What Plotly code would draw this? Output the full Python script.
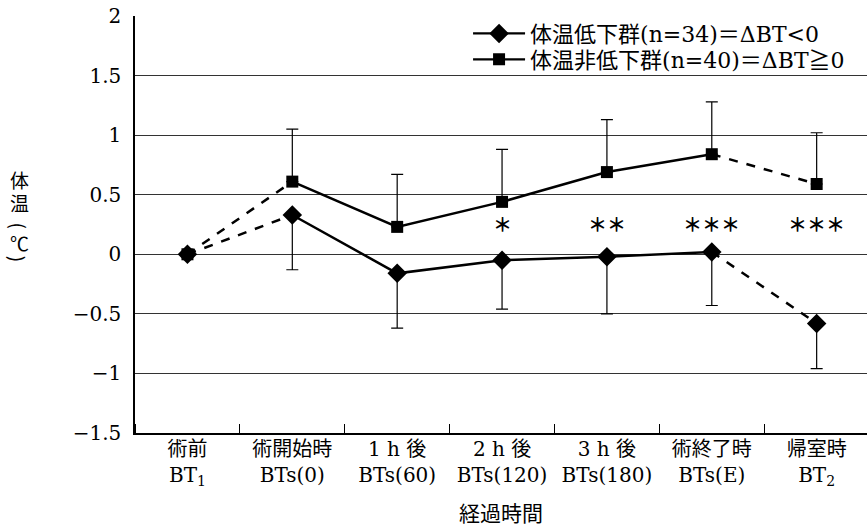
import plotly.graph_objects as go

categories = ["術前<br>BT<sub>1</sub>", "術開始時<br>BTs(0)", "1 h 後<br>BTs(60)", "2 h 後<br>BTs(120)",
              "3 h 後<br>BTs(180)", "術終了時<br>BTs(E)", "帰室時<br>BT<sub>2</sub>"]
low_mean = [0.0, 0.33, -0.16, -0.05, -0.02, 0.02, -0.58]
low_sd = [0.0, 0.46, 0.46, 0.41, 0.48, 0.45, 0.38]
high_mean = [0.0, 0.61, 0.23, 0.44, 0.69, 0.84, 0.59]
high_sd = [0.0, 0.44, 0.44, 0.44, 0.44, 0.44, 0.43]
sig_marks = ["", "", "", "＊", "＊＊", "＊＊＊", "＊＊＊"]
yticks = [2, 1.5, 1, 0.5, 0, -0.5, -1, -1.5]
ytick_text = ["2", "1.5", "1", "0.5", "0", "−0.5", "−1", "−1.5"]

low_name = "体温低下群(n=34)＝ΔBT&lt;0"
high_name = "体温非低下群(n=40)＝ΔBT≧0"

SERIF = "DejaVu Serif, Noto Sans CJK JP"
CJK = "Noto Sans CJK JP"
xi = list(range(len(categories)))

fig = go.Figure()

def add_series(mean, sd, symbol, size, name, up, legend_id):
    for seg in [(0, 2), (5, 7)]:
        fig.add_trace(go.Scatter(x=xi[seg[0]:seg[1]], y=mean[seg[0]:seg[1]], mode="lines",
                                 line=dict(color="black", width=2.5, dash="dash"),
                                 showlegend=False, hoverinfo="skip"))
    fig.add_trace(go.Scatter(x=xi[1:6], y=mean[1:6], mode="lines",
                             line=dict(color="black", width=2.5),
                             showlegend=False, hoverinfo="skip"))
    err = dict(type="data", symmetric=False, color="black", thickness=1.2, width=6,
               array=sd if up else [0] * len(sd),
               arrayminus=[0] * len(sd) if up else sd)
    fig.add_trace(go.Scatter(x=xi, y=mean, mode="markers", name=name,
                             marker=dict(symbol=symbol, size=size, color="black"),
                             error_y=err, showlegend=False))
    fig.add_trace(go.Scatter(x=[None], y=[None], mode="lines+markers", name=name,
                             legend=legend_id,
                             line=dict(color="black", width=2.2),
                             marker=dict(symbol=symbol, size=size, color="black")))

add_series(low_mean, low_sd, "diamond", 15, low_name, False, "legend")
add_series(high_mean, high_sd, "square", 12, high_name, True, "legend2")

for i, s in enumerate(sig_marks):
    if s:
        fig.add_annotation(x=i, y=0.255, text="<b>" + s + "</b>", showarrow=False,
                           font=dict(family=CJK, size=19, color="black"))

# y-axis title, stacked vertically
ytitle = [("体", 0.607, 0), ("温", 0.553, 0), ("(", 0.497, 90), ("℃", 0.457, 0), (")", 0.417, 90)]
for ch, yy, ang in ytitle:
    fig.add_annotation(xref="paper", yref="paper", x=-0.158, y=yy, text=ch, textangle=ang,
                       showarrow=False, font=dict(family=CJK, size=19, color="black"),
                       xanchor="center", yanchor="middle")

# x-axis title
fig.add_annotation(xref="paper", yref="paper", x=0.5, y=-0.19, text="経過時間", showarrow=False,
                   font=dict(family=CJK, size=21, color="black"), xanchor="center", yanchor="middle")

leg_common = dict(xanchor="left", yanchor="top", bgcolor="rgba(0,0,0,0)",
                  font=dict(family=SERIF, size=22), itemwidth=52)

fig.update_layout(
    width=867, height=526,
    margin=dict(l=135, r=0, t=16, b=93, autoexpand=False),
    paper_bgcolor="white", plot_bgcolor="white",
    font=dict(family=SERIF, size=20, color="black"),
    legend=dict(x=0.455, y=1.008, **leg_common),
    legend2=dict(x=0.455, y=0.946, **leg_common),
    xaxis=dict(type="linear", range=[-0.5, 6.48], tickmode="array", tickvals=xi,
               ticktext=categories, showgrid=False, zeroline=False, ticks="",
               tickfont=dict(family=SERIF, size=20), ticklabelstandoff=-3,
               showline=True, linecolor="black", linewidth=1.5,
               minor=dict(tickmode="array", tickvals=[i + 0.5 for i in range(-1, 7)],
                          ticks="inside", ticklen=9, tickcolor="black", tickwidth=1.2)),
    yaxis=dict(range=[-1.5, 2], tickmode="array", tickvals=yticks, ticktext=ytick_text,
               tickfont=dict(family=SERIF, size=20),
               showgrid=True, gridcolor="#333", gridwidth=1.2, zeroline=False,
               showline=True, linecolor="black", linewidth=1.5, ticks="", ticklabelstandoff=8),
)

fig.write_html("out.html", config={"displayModeBar": False},
               post_script="document.body.style.margin='0';document.body.style.overflow='hidden';")
